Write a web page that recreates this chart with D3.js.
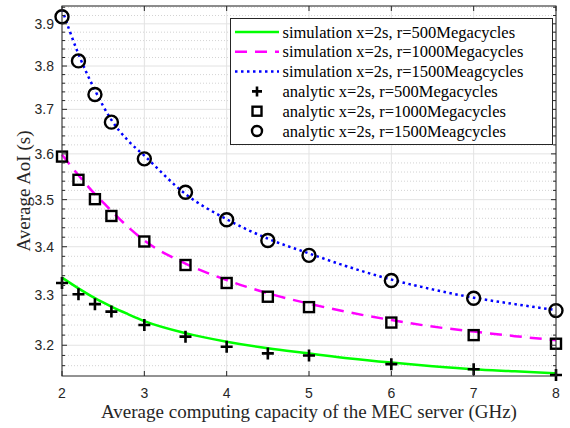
<!DOCTYPE html>
<html>
<head>
<meta charset="utf-8">
<script src="https://cdn.jsdelivr.net/npm/d3@7"></script>
<style>
  body { margin: 0; background: #fff; }
  svg { display: block; }
  .tick-label { font-family: "Liberation Sans", Arial, sans-serif; font-size: 14px; fill: #262626; }
  .axis-title { font-family: "Liberation Serif", "Times New Roman", serif; font-size: 19px; fill: #262626; }
  .legend-text { font-family: "Liberation Serif", "Times New Roman", serif; font-size: 16.5px; fill: #000; }
</style>
</head>
<body>
<svg id="chart" width="570" height="428"></svg>
<script>
const width = 570;
const height = 428;
const margin = { left: 62, right: 14, top: 6, bottom: 52 };

// analytic points
const analyticX = [2, 2.2, 2.4, 2.6, 3, 3.5, 4, 4.5, 5, 6, 7, 8];
const analytic500 = [3.325, 3.302, 3.282, 3.267, 3.240, 3.217, 3.197, 3.184, 3.180, 3.163, 3.153, 3.142];
const analytic1000 = [3.594, 3.543, 3.501, 3.465, 3.411, 3.362, 3.325, 3.297, 3.276, 3.245, 3.220, 3.203];
const analytic1500 = [3.917, 3.812, 3.734, 3.671, 3.589, 3.516, 3.457, 3.413, 3.382, 3.330, 3.294, 3.269];

// simulation curves
const simX = [2, 2.2, 2.4, 2.6, 2.8, 3, 3.5, 4, 4.5, 5, 5.5, 6, 6.5, 7, 7.5, 8];
const sim500 = [3.336, 3.314, 3.294, 3.277, 3.262, 3.248, 3.224, 3.207, 3.194, 3.184, 3.174, 3.166, 3.159, 3.153, 3.149, 3.145];
const sim1000 = [3.598, 3.553, 3.512, 3.476, 3.442, 3.413, 3.365, 3.331, 3.304, 3.283, 3.265, 3.250, 3.237, 3.227, 3.218, 3.210];
const sim1500 = [3.935, 3.828, 3.744, 3.676, 3.630, 3.596, 3.512, 3.458, 3.417, 3.386, 3.357, 3.332, 3.312, 3.295, 3.282, 3.270];

const xTicks = [2, 3, 4, 5, 6, 7, 8];
const yTicks = [3.2, 3.3, 3.4, 3.5, 3.6, 3.7, 3.8, 3.9];
const yMinorTicks = d3.range(3.16, 3.945, 0.02).filter(v => !yTicks.some(t => Math.abs(t - v) < 1e-6));

const legendLabels = [
  'simulation x=2s, r=500Megacycles',
  'simulation x=2s, r=1000Megacycles',
  'simulation x=2s, r=1500Meagcycles',
  'analytic x=2s, r=500Megacycles',
  'analytic x=2s, r=1000Megacycles',
  'analytic x=2s, r=1500Meagcycles'
];

const svg = d3.select('#chart');
const x = d3.scaleLinear().domain([2, 8]).range([margin.left, width - margin.right]);
const y = d3.scaleLog().domain([3.14, 3.943]).range([height - margin.bottom, margin.top]);
const x0 = x.range()[0], x1 = x.range()[1];
const yB = y.range()[0], yT = y.range()[1];

// GRID
const grid = svg.append('g');
yMinorTicks.forEach(v => {
  grid.append('line')
    .attr('x1', x0).attr('x2', x1).attr('y1', y(v)).attr('y2', y(v))
    .attr('stroke', '#c8c8c8').attr('stroke-width', 0.8).attr('stroke-dasharray', '1,2');
});
yTicks.forEach(v => {
  grid.append('line')
    .attr('x1', x0).attr('x2', x1).attr('y1', y(v)).attr('y2', y(v))
    .attr('stroke', '#e3e3e3').attr('stroke-width', 1);
});
xTicks.forEach(v => {
  grid.append('line')
    .attr('x1', x(v)).attr('x2', x(v)).attr('y1', yT).attr('y2', yB)
    .attr('stroke', '#e3e3e3').attr('stroke-width', 1);
});

// CURVES
const line = (xs, ys) => d3.line()
  .x((d, i) => x(xs[i]))
  .y(d => y(d))
  .curve(d3.curveMonotoneX)(ys);

svg.append('path').attr('d', line(simX, sim500))
  .attr('fill', 'none').attr('stroke', '#00ff00').attr('stroke-width', 2.5);
svg.append('path').attr('d', line(simX, sim1000))
  .attr('fill', 'none').attr('stroke', '#ff00ff').attr('stroke-width', 2.5)
  .attr('stroke-dasharray', '12,8');
svg.append('path').attr('d', line(simX, sim1500))
  .attr('fill', 'none').attr('stroke', '#0000ff').attr('stroke-width', 2.5)
  .attr('stroke-dasharray', '2.5,3.5');

// MARKERS
const drawPlus = (g, cx, cy, s) => {
  g.append('path')
    .attr('d', `M${cx - s},${cy}H${cx + s}M${cx},${cy - s}V${cy + s}`)
    .attr('stroke', '#000').attr('stroke-width', 2.6).attr('fill', 'none');
};
const drawSquare = (g, cx, cy, s) => {
  g.append('rect')
    .attr('x', cx - s).attr('y', cy - s).attr('width', 2 * s).attr('height', 2 * s)
    .attr('stroke', '#000').attr('stroke-width', 2.4).attr('fill', 'none');
};
const drawCircle = (g, cx, cy, r) => {
  g.append('circle')
    .attr('cx', cx).attr('cy', cy).attr('r', r)
    .attr('stroke', '#000').attr('stroke-width', 2.4).attr('fill', 'none');
};

const marks = svg.append('g');
analyticX.forEach((v, i) => {
  drawPlus(marks, x(v), y(analytic500[i]), 6);
  drawSquare(marks, x(v), y(analytic1000[i]), 5);
  drawCircle(marks, x(v), y(analytic1500[i]), 6.5);
});

// FRAME AND TICKS
const axisColor = '#262626';
svg.append('rect')
  .attr('x', x0).attr('y', yT).attr('width', x1 - x0).attr('height', yB - yT)
  .attr('fill', 'none').attr('stroke', axisColor).attr('stroke-width', 1);
svg.append('line').attr('x1', x0).attr('x2', x1).attr('y1', yT).attr('y2', yT)
  .attr('stroke', '#8a8a8a').attr('stroke-width', 1.5);

const ticks = svg.append('g').attr('stroke', axisColor).attr('stroke-width', 1);
yTicks.forEach(v => {
  ticks.append('line').attr('x1', x0).attr('x2', x0 + 5).attr('y1', y(v)).attr('y2', y(v));
  ticks.append('line').attr('x1', x1).attr('x2', x1 - 5).attr('y1', y(v)).attr('y2', y(v));
});
yMinorTicks.forEach(v => {
  ticks.append('line').attr('x1', x0).attr('x2', x0 + 3).attr('y1', y(v)).attr('y2', y(v));
  ticks.append('line').attr('x1', x1).attr('x2', x1 - 3).attr('y1', y(v)).attr('y2', y(v));
});
xTicks.forEach(v => {
  ticks.append('line').attr('x1', x(v)).attr('x2', x(v)).attr('y1', yB).attr('y2', yB - 5);
  ticks.append('line').attr('x1', x(v)).attr('x2', x(v)).attr('y1', yT).attr('y2', yT + 5);
});

// TICK LABELS
yTicks.forEach(v => {
  svg.append('text').attr('class', 'tick-label')
    .attr('x', x0 - 8).attr('y', y(v))
    .attr('text-anchor', 'end').attr('dominant-baseline', 'central')
    .text(v.toFixed(1));
});
xTicks.forEach(v => {
  svg.append('text').attr('class', 'tick-label')
    .attr('x', x(v)).attr('y', yB + 17)
    .attr('text-anchor', 'middle').attr('dominant-baseline', 'central')
    .text(v);
});

// AXIS TITLES
svg.append('text').attr('class', 'axis-title')
  .attr('x', (x0 + x1) / 2).attr('y', yB + 42)
  .attr('text-anchor', 'middle')
  .text('Average computing capacity of the MEC server (GHz)');
svg.append('text').attr('class', 'axis-title')
  .attr('transform', `translate(30, ${(yT + yB) / 2}) rotate(-90)`)
  .attr('text-anchor', 'middle')
  .text('Average AoI (s)');

// LEGEND
const legend = svg.append('g');
legend.append('rect')
  .attr('x', 230.5).attr('y', 18.5).attr('width', 322).attr('height', 126)
  .attr('fill', '#fff').attr('stroke', axisColor).attr('stroke-width', 1);
const rowY = i => 32 + i * 19.8;
const lineStyles = [
  { color: '#00ff00', dash: null },
  { color: '#ff00ff', dash: '12,8' },
  { color: '#0000ff', dash: '2.5,3.5' }
];
lineStyles.forEach((s, i) => {
  legend.append('line')
    .attr('x1', 235).attr('x2', 279).attr('y1', rowY(i)).attr('y2', rowY(i))
    .attr('stroke', s.color).attr('stroke-width', 2.5)
    .attr('stroke-dasharray', s.dash);
});
drawPlus(legend, 257, rowY(3), 5);
drawSquare(legend, 257, rowY(4), 4.5);
drawCircle(legend, 257, rowY(5), 5);
legendLabels.forEach((t, i) => {
  legend.append('text').attr('class', 'legend-text')
    .attr('x', 282.5).attr('y', rowY(i))
    .attr('dominant-baseline', 'central')
    .text(t);
});
</script>
</body>
</html>
